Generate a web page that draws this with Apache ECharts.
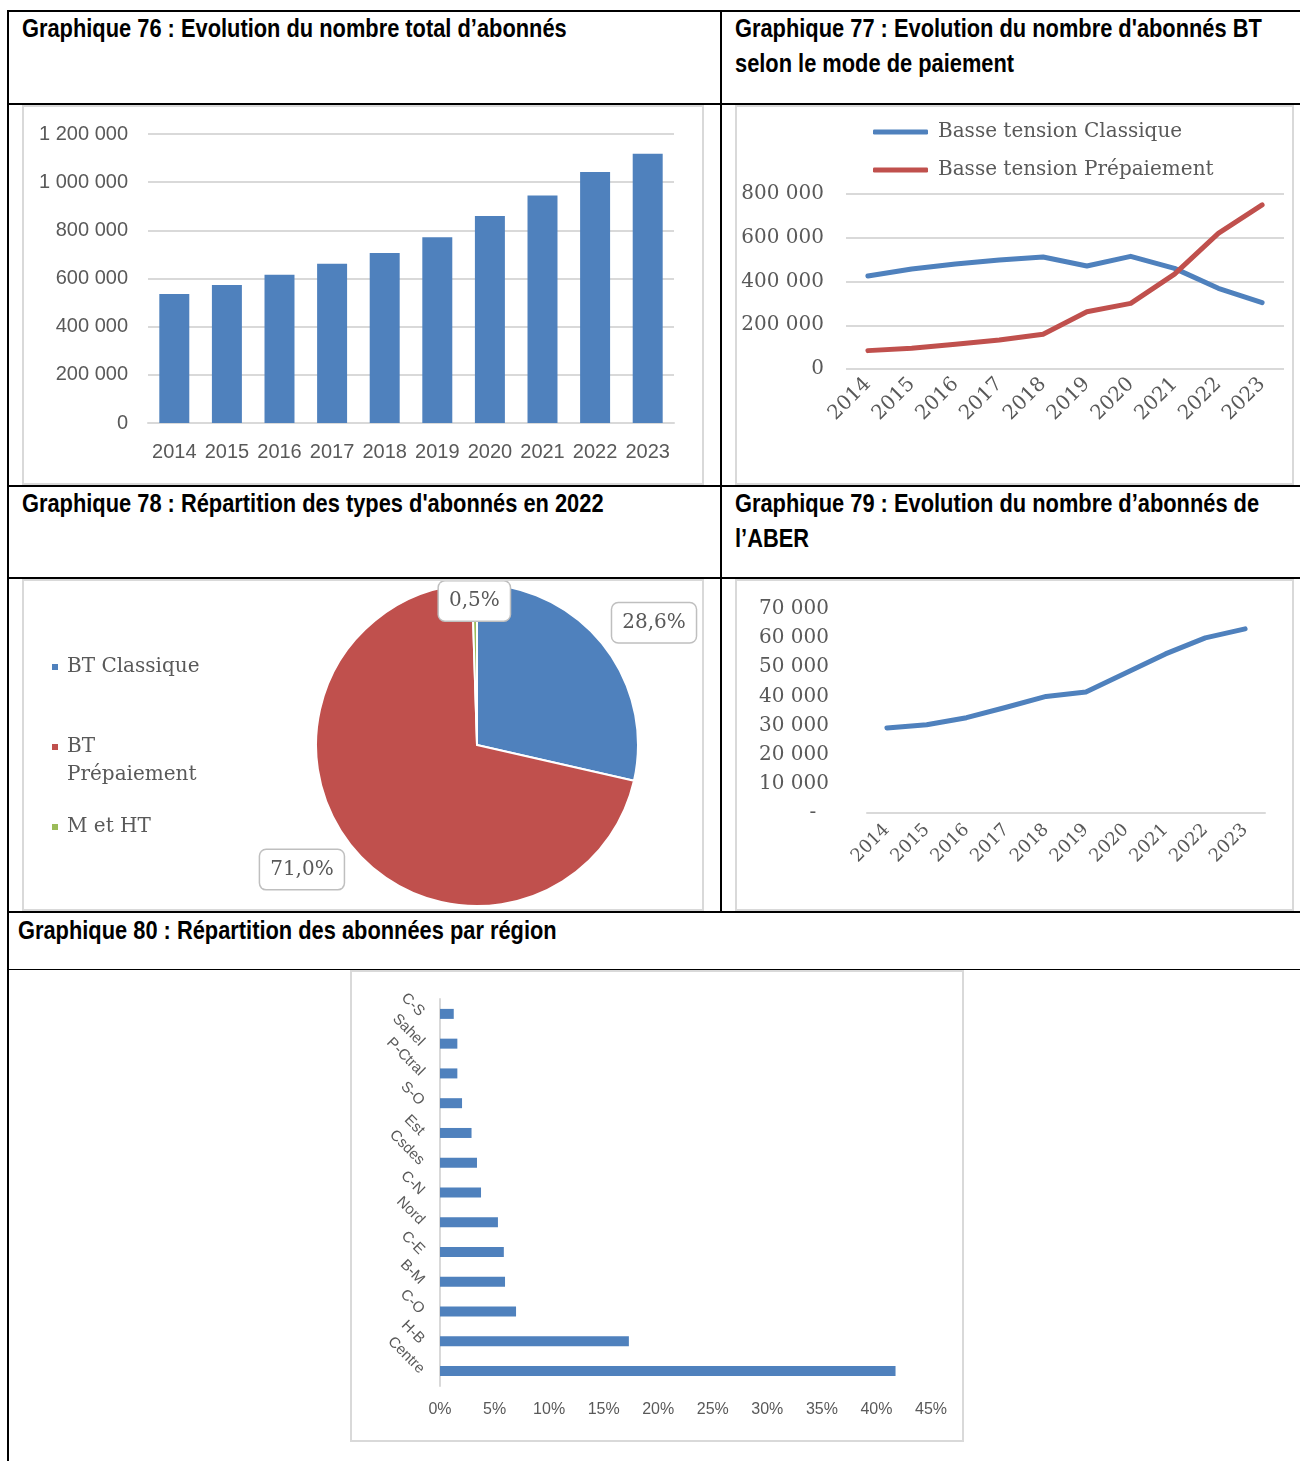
<!DOCTYPE html>
<html>
<head>
<meta charset="utf-8">
<script src="https://cdn.jsdelivr.net/npm/echarts@6/dist/echarts.min.js"></script>
<style>
  body { margin: 0; width: 1300px; height: 1461px; background: #fff; position: relative; overflow: hidden; }
  .hl { position: absolute; left: 7px; width: 1300px; height: 2px; background: #000; }
  .vl { position: absolute; width: 2px; background: #000; }
  .title { position: absolute; font-family: 'Liberation Sans', Arial, sans-serif;
           font-weight: bold; font-size: 25px; line-height: 35px; color: #000; white-space: nowrap;
           transform-origin: left center; }
  .panel { position: absolute; box-sizing: border-box; border: 2px solid #d9d9d9; }
</style>
</head>
<body>
  <div class="hl" style="top:10px"></div>
  <div class="hl" style="top:103px"></div>
  <div class="hl" style="top:485px"></div>
  <div class="hl" style="top:577px"></div>
  <div class="hl" style="top:911px"></div>
  <div class="hl" style="top:969px; height:1px"></div>
  <div class="vl" style="left:7px; top:10px; height:1460px"></div>
  <div class="vl" style="left:720px; top:10px; height:902px"></div>

  <div class="title" id="t76" style="left:22px; top:11px">Graphique 76 : Evolution du nombre total d’abonnés</div>
  <div class="title" style="left:735px; top:11px">Graphique 77 : Evolution du nombre d'abonnés BT<br>selon le mode de paiement</div>
  <div class="title" style="left:22px; top:486px">Graphique 78 : Répartition des types d'abonnés en 2022</div>
  <div class="title" style="left:735px; top:486px">Graphique 79 : Evolution du nombre d’abonnés de<br>l’ABER</div>
  <div class="title" style="left:18px; top:913px">Graphique 80 : Répartition des abonnées par région</div>

  <div id="c76" class="panel" style="left:22px; top:105px; width:682px; height:380px"></div>
  <div id="c77" class="panel" style="left:735px; top:105px; width:559px; height:380px"></div>
  <div id="c78" class="panel" style="left:22px; top:579px; width:682px; height:332px"></div>
  <div id="c79" class="panel" style="left:735px; top:579px; width:559px; height:332px"></div>
  <div id="c80" class="panel" style="left:350px; top:970px; width:614px; height:472px"></div>

<script>
  // données
  const years = ['2014', '2015', '2016', '2017', '2018', '2019', '2020', '2021', '2022', '2023'];
  const totalAbonnes = [536000, 573000, 616000, 661000, 706000, 771000, 860000, 945000, 1042000, 1118000];
  const btClassique = [425000, 457000, 480000, 498000, 512000, 471000, 515000, 460000, 369000, 303000];
  const btPrepaiement = [84000, 95000, 113000, 133000, 159000, 262000, 300000, 434000, 620000, 750000];
  const typesNoms = ['BT Classique', 'BT Prépaiement', 'M et HT'];
  const typesParts = [28.6, 71.0, 0.5];
  const aberAbonnes = [29200, 30300, 32700, 36300, 40000, 41500, 48000, 54600, 60100, 63200];
  const regions = ['C-S', 'Sahel', 'P-Ctral', 'S-O', 'Est', 'Csdes', 'C-N', 'Nord', 'C-E', 'B-M', 'C-O', 'H-B', 'Centre'];
  const regionParts = [1.26, 1.59, 1.59, 2.02, 2.89, 3.39, 3.76, 5.31, 5.85, 5.96, 6.97, 17.31, 41.75];

  const BLUE = '#4f81bd', RED = '#c0504d', GREEN = '#9bbb59', GREY = '#595959', GRID = '#d9d9d9';
  const SANS = "'Liberation Sans', Arial, sans-serif";
  const SERIF = "'DejaVu Serif', serif";

  // titres en police étroite : on resserre la police Arial
  const t76 = document.getElementById('t76');
  const k = 545 / t76.scrollWidth;
  document.querySelectorAll('.title').forEach(function (el) {
    el.style.transform = 'scaleX(' + k + ')';
  });

  function fmt(v) {
    return String(v).replace(/\B(?=(\d{3})+(?!\d))/g, ' ');
  }

  // Graphique 76
  const chart76 = echarts.init(document.getElementById('c76'));
  chart76.setOption({
    animation: false,
    grid: { left: 124, right: 28, top: 27, bottom: 60 },
    xAxis: {
      type: 'category', data: years,
      axisLine: { lineStyle: { color: GRID, width: 2 } },
      axisTick: { show: false },
      axisLabel: { color: GREY, fontFamily: SANS, fontSize: 20, margin: 19, interval: 0 }
    },
    yAxis: {
      type: 'value', min: 0, max: 1200000, interval: 200000,
      axisLine: { show: false }, axisTick: { show: false },
      splitLine: { lineStyle: { color: GRID, width: 2 } },
      axisLabel: { color: GREY, fontFamily: SANS, fontSize: 20, margin: 20, formatter: fmt }
    },
    series: [{ type: 'bar', data: totalAbonnes, barCategoryGap: '43%', itemStyle: { color: BLUE } }]
  });

  // Graphique 77
  const chart77 = echarts.init(document.getElementById('c77'));
  chart77.setOption({
    animation: false,
    legend: {
      orient: 'vertical', left: 131, top: 8, itemWidth: 55, itemHeight: 5, itemGap: 14,
      icon: 'roundRect',
      textStyle: { color: GREY, fontFamily: SERIF, fontSize: 20, lineHeight: 24, padding: [0, 0, 0, 5] }
    },
    grid: { left: 109, right: 8, top: 87, bottom: 114 },
    xAxis: {
      type: 'category', data: years,
      axisLine: { show: false }, axisTick: { show: false },
      axisLabel: { color: GREY, fontFamily: SERIF, fontSize: 20, rotate: 45, margin: 12, interval: 0 }
    },
    yAxis: {
      type: 'value', min: 0, max: 800000, interval: 200000,
      axisLine: { show: false }, axisTick: { show: false },
      splitLine: { lineStyle: { color: GRID, width: 2 } },
      axisLabel: { color: GREY, fontFamily: SERIF, fontSize: 20, margin: 22, formatter: fmt }
    },
    series: [
      { name: 'Basse tension Classique', type: 'line', data: btClassique, symbol: 'none',
        lineStyle: { color: BLUE, width: 5, cap: 'round', join: 'round' }, itemStyle: { color: BLUE } },
      { name: 'Basse tension Prépaiement', type: 'line', data: btPrepaiement, symbol: 'none',
        lineStyle: { color: RED, width: 5, cap: 'round', join: 'round' }, itemStyle: { color: RED } }
    ]
  });

  // Graphique 78
  const chart78 = echarts.init(document.getElementById('c78'));
  const pieColors = [BLUE, RED, GREEN];
  const pieData = typesNoms.map(function (n, i) {
    const item = { name: n, value: typesParts[i], itemStyle: { color: pieColors[i] } };
    if (i === 2) {
      item.label = { distanceToLabelLine: -35 };
      item.labelLine = { length: -17, length2: 0 };
    }
    return item;
  });
  chart78.setOption({
    animation: false,
    legend: {
      orient: 'vertical', left: 21, top: 67, itemWidth: 8, itemHeight: 8, itemGap: 24,
      icon: 'rect',
      textStyle: { color: GREY, fontFamily: SERIF, fontSize: 20, lineHeight: 28, padding: [0, 0, 0, 3] },
      // ligne vide en tête pour garder le carré en face de « BT »
      formatter: function (name) { return name === 'BT Prépaiement' ? '\nBT\nPrépaiement' : name; },
      data: typesNoms
    },
    series: [{
      type: 'pie', center: [453, 164], radius: 161, startAngle: 90, clockwise: true,
      avoidLabelOverlap: false,
      itemStyle: { borderColor: '#fff', borderWidth: 2 },
      label: {
        position: 'outside', distanceToLabelLine: -18,
        formatter: function (p) { return p.value.toFixed(1).replace('.', ',') + '%'; },
        color: GREY, fontFamily: SERIF, fontSize: 20, lineHeight: 22,
        backgroundColor: '#fff', borderColor: '#bfbfbf', borderWidth: 1.5, borderRadius: 6,
        padding: [9, 10, 8, 10]
      },
      labelLine: { show: false, length: 35, length2: 0 },
      data: pieData
    }]
  });

  // Graphique 79
  const chart79 = echarts.init(document.getElementById('c79'));
  chart79.setOption({
    animation: false,
    grid: { left: 130, right: 27, top: 28, bottom: 96 },
    xAxis: {
      type: 'category', data: years,
      axisLine: { lineStyle: { color: GRID, width: 2 } },
      axisTick: { show: false },
      axisLabel: { color: GREY, fontFamily: SERIF, fontSize: 18, rotate: 45, margin: 14, interval: 0 }
    },
    yAxis: {
      type: 'value', min: 0, max: 70000, interval: 10000,
      axisLine: { show: false }, axisTick: { show: false }, splitLine: { show: false },
      axisLabel: { color: GREY, fontFamily: SERIF, fontSize: 20, margin: 38,
        formatter: function (v) { return v === 0 ? '-  ' : fmt(v); } }
    },
    series: [{ type: 'line', data: aberAbonnes, symbol: 'none',
      lineStyle: { color: BLUE, width: 5, cap: 'round', join: 'round' } }]
  });

  // Graphique 80
  const chart80 = echarts.init(document.getElementById('c80'));
  chart80.setOption({
    animation: false,
    grid: { left: 88, right: 31, top: 27, bottom: 54 },
    xAxis: {
      type: 'value', min: 0, max: 45, interval: 5,
      axisLine: { show: false }, axisTick: { show: false }, splitLine: { show: false },
      axisLabel: { color: GREY, fontFamily: SANS, fontSize: 16, margin: 16, formatter: '{value}%' }
    },
    yAxis: {
      type: 'category', data: regions, inverse: true,
      axisLine: { lineStyle: { color: GRID, width: 2 } },
      axisTick: { show: false },
      axisLabel: { color: GREY, fontFamily: SANS, fontSize: 15, rotate: -45, margin: 18, interval: 0 }
    },
    series: [{ type: 'bar', data: regionParts, barWidth: 10, itemStyle: { color: BLUE } }]
  });
</script>
</body>
</html>
